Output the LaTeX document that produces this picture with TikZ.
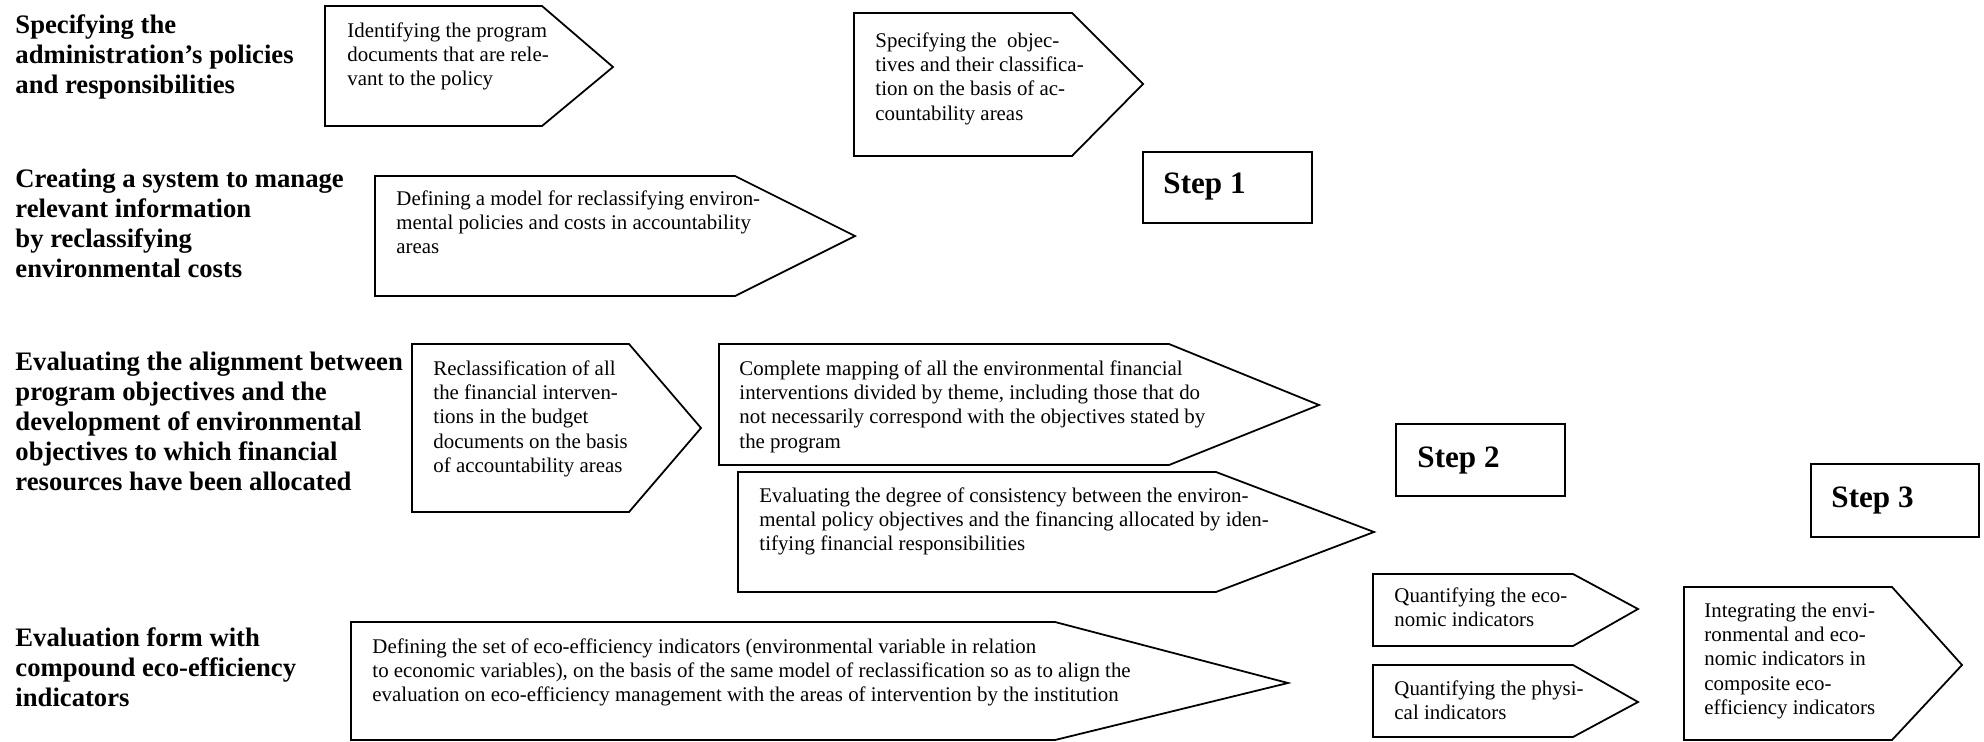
\documentclass[tikz,border=0pt]{standalone}
\usepackage{fontspec}
\setmainfont{Liberation Serif}
\newcommand{\boxfont}{\fontsize{9.4}{11}\selectfont}
\newcommand{\labfont}{\fontsize{12}{13.5}\selectfont\bfseries}
\newcommand{\stepfont}{\fontsize{14}{16}\selectfont\bfseries}
\newcommand{\lns}[1]{\begin{tabular}[t]{@{}l@{}}#1\end{tabular}}
\tikzset{
  shapeline/.style={draw=black, line width=0.8pt, line join=miter},
  boxtext/.style={inner sep=0pt, anchor=base west, font=\boxfont},
  labtext/.style={inner sep=0pt, anchor=base west, font=\labfont},
  steptext/.style={inner sep=0pt, anchor=base west, font=\stepfont},
}
\begin{document}
\begin{tikzpicture}[x=0.45pt,y=-0.45pt]
\useasboundingbox (0,0) rectangle (1984,742);

% left labels
\node[labtext] (L1) at (15,33) {\lns{Specifying the\\administration’s policies\\and responsibilities}};
\node[labtext] (L2) at (15,187) {\lns{Creating a system to manage\\relevant information\\by reclassifying\\environmental costs}};
\node[labtext] (L3) at (15,370) {\lns{Evaluating the alignment between\\program objectives and the\\development of environmental\\objectives to which financial\\resources have been allocated}};
\node[labtext] (L4) at (15,646) {\lns{Evaluation form with\\compound eco-efficiency\\indicators}};

% arrow boxes
\draw[shapeline] (325,6) -- (542,6) -- (613,67) -- (542,126) -- (325,126) -- cycle;
\node[boxtext] (tA) at (347,37) {\lns{Identifying the program\\documents that are rele-\\vant to the policy}};

\draw[shapeline] (854,13) -- (1072,13) -- (1143,84) -- (1072,156) -- (854,156) -- cycle;
\node[boxtext] (tB) at (875,47) {\lns{Specifying the\ \ objec-\\tives and their classifica-\\tion on the basis of ac-\\countability areas}};

\draw[shapeline] (375,176) -- (735,176) -- (855,236) -- (735,296) -- (375,296) -- cycle;
\node[boxtext] (tC) at (396,205) {\lns{Defining a model for reclassifying environ-\\mental policies and costs in accountability\\areas}};

\draw[shapeline] (412,344) -- (629,344) -- (701,428) -- (629,512) -- (412,512) -- cycle;
\node[boxtext] (tD) at (433,375) {\lns{Reclassification of all\\the financial interven-\\tions in the budget\\documents on the basis\\of accountability areas}};

\draw[shapeline] (719,344) -- (1169,344) -- (1319,405) -- (1169,465) -- (719,465) -- cycle;
\node[boxtext] (tE) at (739,375) {\lns{Complete mapping of all the environmental financial\\interventions divided by theme, including those that do\\not necessarily correspond with the objectives stated by\\the program}};

\draw[shapeline] (738,472) -- (1216,472) -- (1374,532) -- (1216,592) -- (738,592) -- cycle;
\node[boxtext] (tF) at (759,502) {\lns{Evaluating the degree of consistency between the environ-\\mental policy objectives and the financing allocated by iden-\\tifying financial responsibilities}};

\draw[shapeline] (1373,574) -- (1573,574) -- (1638,609) -- (1573,646) -- (1373,646) -- cycle;
\node[boxtext] (tG) at (1394,602) {\lns{Quantifying the eco-\\nomic indicators}};

\draw[shapeline] (1373,665) -- (1573,665) -- (1638,702) -- (1573,737) -- (1373,737) -- cycle;
\node[boxtext] (tH) at (1394,695) {\lns{Quantifying the physi-\\cal indicators}};

\draw[shapeline] (1684,587) -- (1892,587) -- (1962,665) -- (1892,740) -- (1684,740) -- cycle;
\node[boxtext] (tI) at (1704,617) {\lns{Integrating the envi-\\ronmental and eco-\\nomic indicators in\\composite eco-\\efficiency indicators}};

\draw[shapeline] (351,622) -- (1055,622) -- (1288,683) -- (1055,740) -- (351,740) -- cycle;
\node[boxtext] (tJ) at (372,653) {\lns{Defining the set of eco-efficiency indicators (environmental variable in relation\\to economic variables), on the basis of the same model of reclassification so as to align the\\evaluation on eco-efficiency management with the areas of intervention by the institution}};

% step boxes
\draw[shapeline] (1143,152) rectangle (1312,223);
\node[steptext] (S1) at (1163,193) {Step 1};
\draw[shapeline] (1396,424) rectangle (1565,496);
\node[steptext] (S2) at (1417,467) {Step 2};
\draw[shapeline] (1811,464) rectangle (1979,537);
\node[steptext] (S3) at (1831,507) {Step 3};
\end{tikzpicture}
\end{document}
